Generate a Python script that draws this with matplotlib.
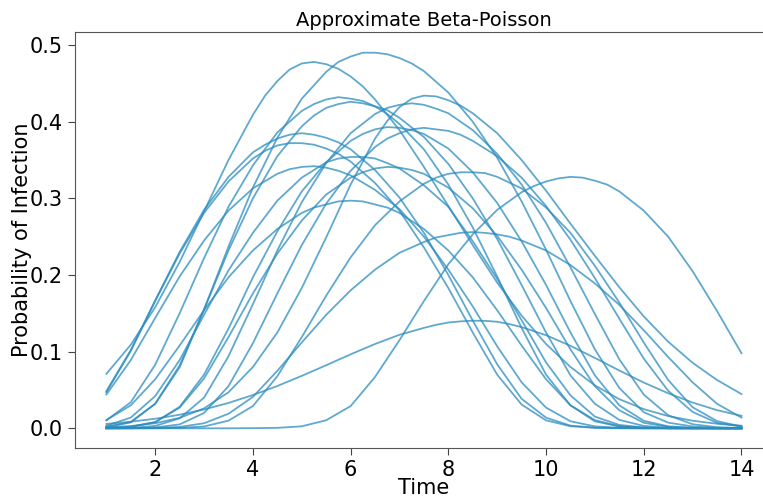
import matplotlib
matplotlib.use("Agg")
import matplotlib.pyplot as plt

# Time grid read at half-day steps
time = [1.0, 1.5, 2.0, 2.5, 3.0, 3.5, 4.0, 4.5, 5.0, 5.5, 6.0, 6.5, 7.0, 7.5,
        8.0, 8.5, 9.0, 9.5, 10.0, 10.5, 11.0, 11.5, 12.0, 12.5, 13.0, 13.5, 14.0]

curve_a = [.071, .109, .158, .217, .283, .350, .409, .453, .476, .475, .459, .429, .389, .341,
           .290, .239, .190, .147, .110, .080, .056, .038, .025, .016, .0099, .0059, .0034]
curve_b = [.002, .0083, .032, .0795, .155, .237, .314, .379, .430, .465, .485, .490, .483, .466,
           .438, .400, .353, .296, .233, .166, .103, .0526, .021, .0074, .0024, .0006, .0001]
curve_c = [.0104, .034, .083, .150, .222, .289, .343, .386, .414, .429, .430, .420, .397, .364,
           .318, .262, .198, .131, .070, .030, .0091, .0025, .0006, .0001, .00003, .00001, .0]
curve_d = [.0016, .0077, .032, .082, .155, .232, .300, .355, .394, .418, .426, .420, .405, .380,
           .345, .300, .247, .187, .125, .069, .032, .011, .0031, .0009, .0002, .0001, .0]
curve_e = [.0013, .0029, .0066, .0136, .026, .047, .080, .125, .183, .249, .318, .378, .419, .434,
           .428, .411, .385, .350, .310, .267, .225, .184, .146, .113, .0855, .063, .0447]
curve_e2 = [.0001, .0006, .0031, .013, .040, .094, .162, .232, .295, .346, .385, .410, .422, .422,
            .411, .389, .358, .318, .268, .210, .149, .090, .044, .017, .0053, .0015, .0003]
curve_f = [.0004, .002, .0079, .028, .070, .130, .197, .257, .309, .347, .375, .390, .392, .384,
           .365, .334, .294, .244, .187, .125, .069, .030, .0098, .0026, .0006, .0001, .0]
curve_g = [.0, .0002, .0011, .0051, .020, .055, .111, .176, .239, .293, .336, .367, .385, .392,
           .388, .375, .355, .327, .290, .246, .196, .143, .091, .049, .0214, .0071, .0023]
curve_h = [.0485, .102, .167, .230, .285, .328, .360, .378, .385, .379, .364, .337, .301, .255,
           .200, .1405, .0835, .0385, .0139, .0035, .0009, .0002, .0, .0, .0, .0, .0]
curve_i = [.047, .101, .166, .228, .281, .322, .352, .369, .372, .365, .348, .320, .284, .236,
           .183, .125, .070, .031, .0104, .0027, .0006, .0001, .0, .0, .0, .0, .0]
curve_j = [.044, .089, .144, .198, .245, .284, .313, .332, .341, .340, .330, .311, .286, .250,
           .207, .159, .107, .060, .027, .0092, .0025, .0007, .0001, .0, .0, .0, .0]
curve_k = [.0034, .014, .042, .089, .148, .206, .255, .297, .327, .347, .354, .352, .339, .317,
           .289, .244, .195, .141, .086, .043, .0153, .0044, .0011, .0002, .0, .0, .0]
curve_l = [.0003, .002, .0082, .027, .065, .119, .176, .228, .271, .305, .327, .339, .340, .332,
           .314, .287, .251, .207, .157, .103, .055, .0235, .0072, .002, .0004, .0001, .0]
curve_m = [.0, .0, .0001, .0005, .0024, .010, .029, .068, .119, .173, .223, .265, .296, .319,
           .332, .334, .328, .313, .288, .255, .212, .164, .112, .063, .0275, .0094, .0024]
curve_n = [.0, .0, .0, .0, .0, .0, .0002, .0006, .0026, .0105, .029, .067, .115, .166,
           .214, .253, .285, .308, .322, .328, .323, .309, .284, .250, .205, .153, .098]
curve_o = [.0107, .030, .064, .108, .154, .197, .232, .260, .281, .292, .297, .292, .281, .260,
           .232, .197, .154, .108, .064, .030, .0107, .0027, .0007, .0001, .0, .0, .0]
curve_p = [.0, .0001, .0005, .0018, .0066, .019, .041, .075, .112, .148, .180, .207, .229, .243,
           .252, .256, .253, .245, .232, .213, .189, .161, .128, .093, .060, .032, .014]
curve_q = [.0057, .0086, .0125, .0177, .0246, .0331, .0434, .0552, .0684, .0823, .0965, .110, .122, .131,
           .138, .1404, .139, .132, .1215, .1076, .0918, .0754, .0597, .0457, .0336, .0237, .0163]

# Extra readings at quarter steps around each peak
peak_t_a = [4.25, 4.75, 5.25, 5.75, 6.25]
peak_v_a = [.434, .468, .478, .469, .446]
peak_t_b = [5.75, 6.25, 6.75, 7.25]
peak_v_b = [.478, .490, .488, .476]
peak_t_c = [5.25, 5.75, 6.25, 6.75]
peak_v_c = [.423, .432, .427, .410]
peak_t_d = [5.25, 5.75, 6.25, 6.75]
peak_v_d = [.408, .423, .424, .415]
peak_t_e = [6.75, 7.25, 7.75, 8.25]
peak_v_e = [.401, .430, .433, .421]
peak_t_e2 = [6.75, 7.25, 7.75]
peak_v_e2 = [.418, .424, .417]
peak_t_f = [6.25, 6.75, 7.25]
peak_v_f = [.384, .393, .389]
peak_t_g = [6.75, 7.25, 7.75, 8.25]
peak_v_g = [.378, .390, .390, .383]
peak_t_h = [4.25, 4.75, 5.25, 5.75]
peak_v_h = [.370, .383, .383, .373]
peak_t_i = [4.25, 4.75, 5.25, 5.75]
peak_v_i = [.362, .372, .370, .358]
peak_t_j = [4.75, 5.25, 5.75]
peak_v_j = [.338, .342, .336]
peak_t_k = [5.75, 6.25, 6.75]
peak_v_k = [.352, .354, .346]
peak_t_l = [6.25, 6.75, 7.25]
peak_v_l = [.334, .341, .337]
peak_t_m = [7.75, 8.25, 8.75]
peak_v_m = [.327, .334, .333]
peak_t_n = [9.75, 10.25, 10.75, 11.25]
peak_v_n = [.316, .326, .327, .318]
peak_t_o = [5.25, 5.75, 6.25, 6.75]
peak_v_o = [.288, .296, .296, .288]
peak_t_p = [7.75, 8.25, 8.75, 9.25]
peak_v_p = [.249, .255, .255, .250]
peak_t_q = [7.75, 8.25, 8.75, 9.25]
peak_v_q = [.135, .1395, .1402, .136]

series = [
    (curve_a, peak_t_a, peak_v_a), (curve_b, peak_t_b, peak_v_b),
    (curve_c, peak_t_c, peak_v_c), (curve_d, peak_t_d, peak_v_d),
    (curve_e, peak_t_e, peak_v_e), (curve_e2, peak_t_e2, peak_v_e2),
    (curve_f, peak_t_f, peak_v_f), (curve_g, peak_t_g, peak_v_g),
    (curve_h, peak_t_h, peak_v_h), (curve_i, peak_t_i, peak_v_i),
    (curve_j, peak_t_j, peak_v_j), (curve_k, peak_t_k, peak_v_k),
    (curve_l, peak_t_l, peak_v_l), (curve_m, peak_t_m, peak_v_m),
    (curve_n, peak_t_n, peak_v_n), (curve_o, peak_t_o, peak_v_o),
    (curve_p, peak_t_p, peak_v_p), (curve_q, peak_t_q, peak_v_q),
]

title = "Approximate Beta-Poisson"
xlabel = "Time"
ylabel = "Probability of Infection"
xticks = [2, 4, 6, 8, 10, 12, 14]
yticks = [0.0, 0.1, 0.2, 0.3, 0.4, 0.5]

W, H = 763, 498
fig = plt.figure(figsize=(W / 100, H / 100), dpi=100)
ax = fig.add_axes([74.6 / W, (H - 447.7) / H, 698.6 / W, 416.0 / H])

for base, pt, pv in series:
    pts = sorted(list(zip(time, base)) + list(zip(pt, pv)))
    xs = [p[0] for p in pts]
    ys = [p[1] for p in pts]
    ax.plot(xs, ys, color="#2b8cbe", alpha=0.75, linewidth=1.3,
            solid_joinstyle="round")

ax.set_xlim(0.35, 14.65)
ax.set_ylim(-0.0253, 0.5174)
ax.set_xticks(xticks)
ax.set_yticks(yticks)
ax.set_yticklabels([f"{v:.1f}" for v in yticks])
ax.tick_params(labelsize=15, length=5, color="#444444")
for s in ax.spines.values():
    s.set_color("#555555")
ax.set_title(title, fontsize=14, pad=4)
ax.set_xlabel(xlabel, fontsize=15, labelpad=-1)
ax.set_ylabel(ylabel, fontsize=15, labelpad=-2)

fig.savefig("out.png", dpi=100)
